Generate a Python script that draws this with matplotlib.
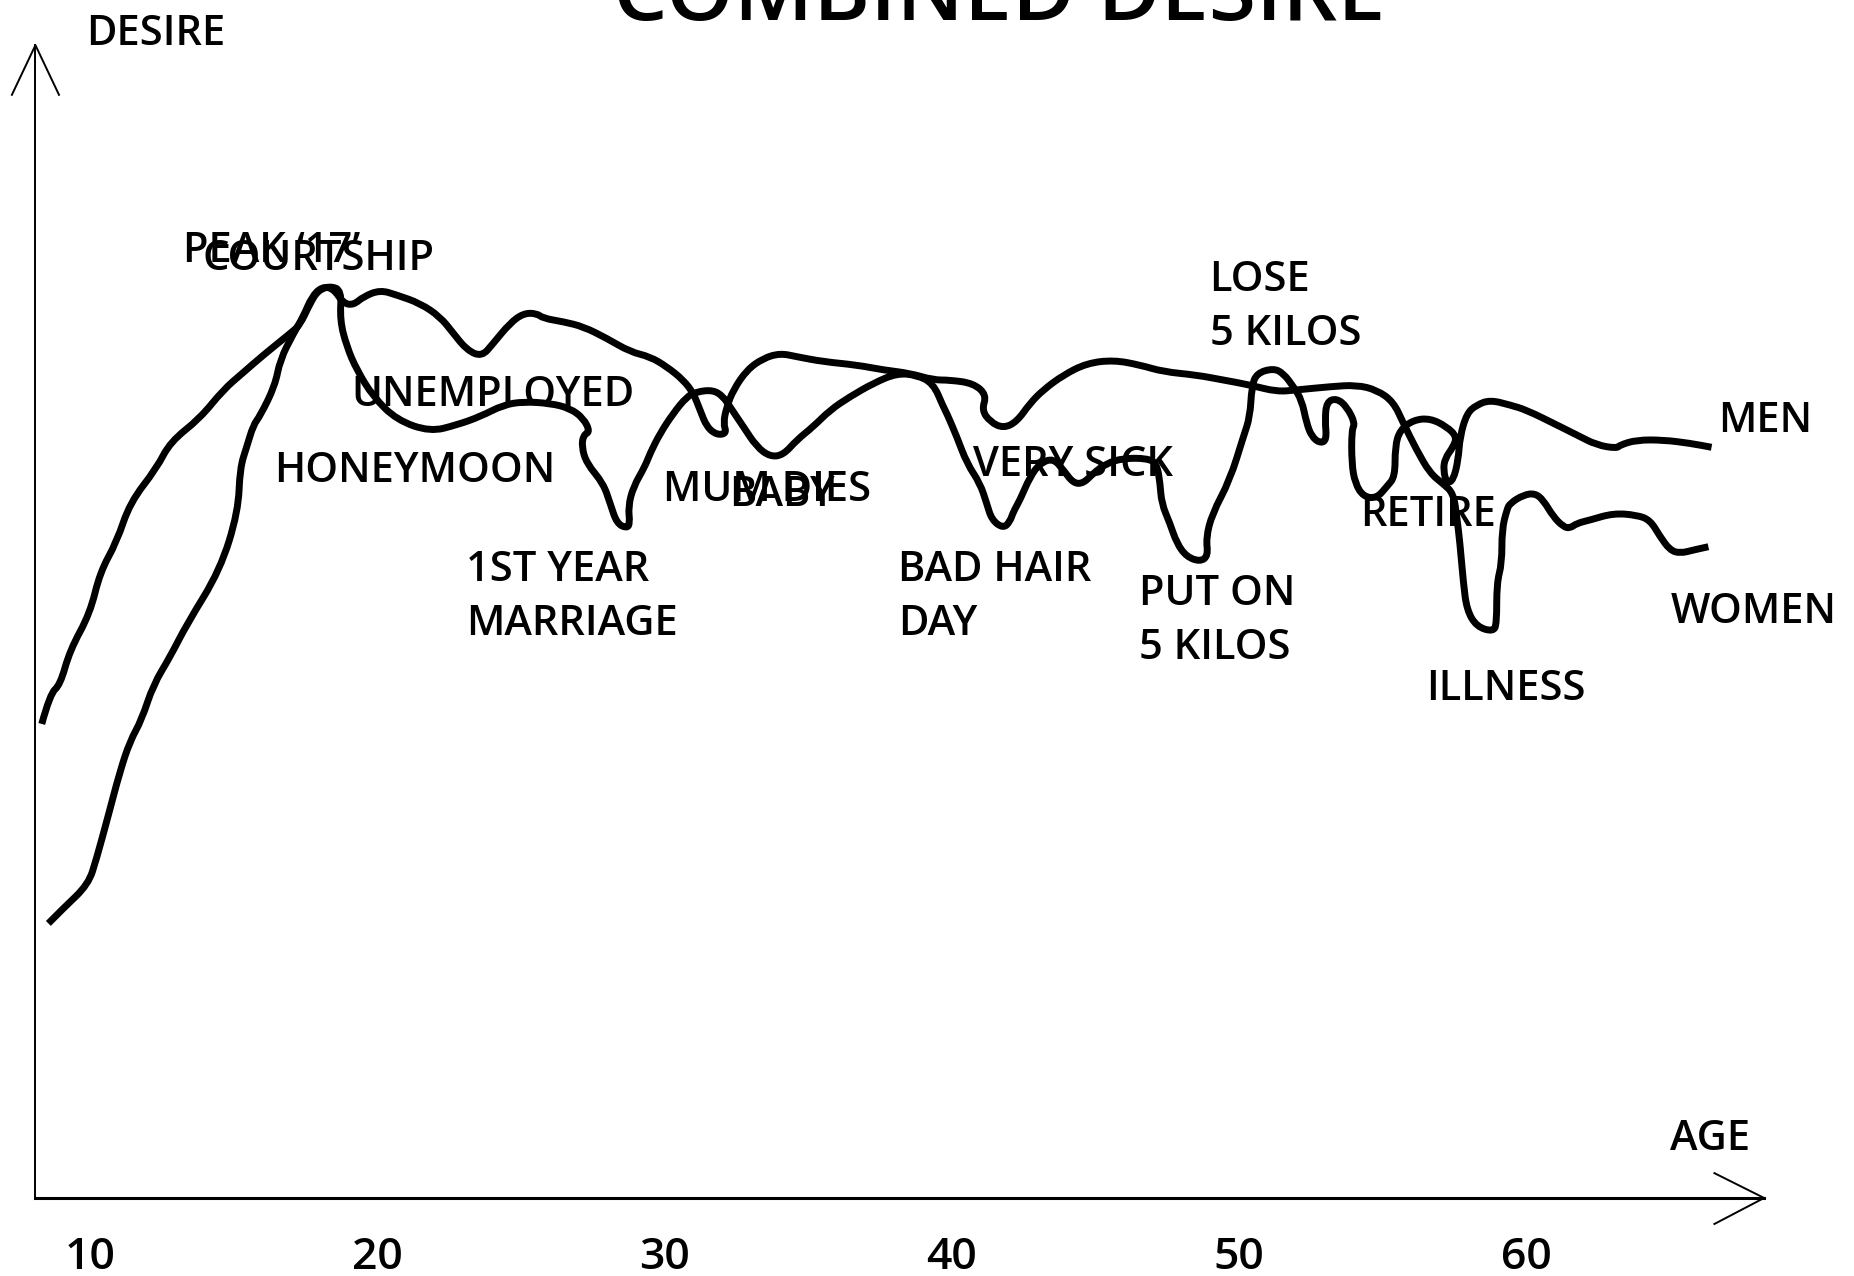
import matplotlib
matplotlib.use("Agg")
import matplotlib.pyplot as plt
from matplotlib.path import Path
from matplotlib.patches import PathPatch

## Data ##

# men: starts upper-left, honeymoon dip, ends at MEN
men_age = [8.32, 8.61, 8.96, 9.30, 10.00, 10.35, 10.93, 11.39, 12.32, 12.79, 13.83, 14.63, 15.33,
           16.02, 16.96, 17.31, 17.66, 17.94, 18.36, 18.76, 18.70, 18.94, 19.29, 19.86, 20.68,
           21.84, 22.77, 23.58, 24.39, 25.09, 26.02, 26.71, 27.18, 27.41, 27.18, 27.12, 27.29,
           27.87, 28.11, 28.34, 28.69, 28.80, 28.74, 28.92, 29.32, 29.50, 29.85, 30.31, 30.78,
           31.12, 31.70, 32.05, 32.28, 32.75, 33.21, 33.68, 34.14, 34.61, 35.18, 35.77, 36.46,
           37.27, 38.09, 38.78, 39.36, 39.71, 39.83, 40.18, 40.53, 40.99, 41.22, 41.40, 41.80,
           42.03, 42.15, 42.38, 42.73, 43.08, 43.54, 43.89, 44.24, 44.59, 44.93, 45.40, 45.98,
           46.79, 47.14, 47.26, 47.31, 47.60, 47.84, 48.18, 48.65, 48.93, 48.86, 49.07, 49.69,
           50.16, 50.39, 50.45, 50.62, 51.20, 51.55, 51.90, 52.19, 52.36, 52.54, 52.83, 53.06,
           53.00, 53.06, 53.41, 53.76, 54.05, 53.93, 53.93, 54.05, 54.34, 54.80, 55.15, 55.44,
           55.44, 55.61, 56.08, 56.66, 57.24, 57.59, 57.47, 57.18, 57.12, 57.24, 57.47, 57.64,
           57.70, 57.94, 58.28, 58.75, 59.44, 60.02, 61.07, 61.77, 62.46, 63.16, 63.27, 63.85,
           64.78, 65.71, 66.46]
men_desire = [40.09, 42.65, 43.39, 46.32, 49.44, 52.93, 55.49, 58.80, 61.72, 63.93, 65.94, 68.33,
              69.80, 71.26, 73.10, 73.83, 75.66, 76.76, 77.13, 76.76, 74.26, 72.00, 70.03, 67.77,
              65.80, 64.81, 65.38, 66.08, 67.07, 67.35, 67.21, 66.79, 65.94, 64.81, 64.53, 63.54,
              62.14, 60.44, 58.75, 57.06, 56.64, 57.06, 58.47, 60.16, 61.85, 62.98, 64.67, 66.37,
              67.77, 68.19, 68.34, 67.77, 66.92, 65.23, 63.54, 62.69, 62.84, 64.11, 65.23, 66.64,
              67.77, 68.90, 69.75, 69.60, 68.90, 66.92, 66.37, 64.39, 62.14, 60.44, 58.75, 57.34,
              56.64, 57.20, 58.04, 59.03, 61.00, 62.14, 62.56, 61.57, 60.44, 60.44, 61.29, 62.14,
              62.56, 62.56, 62.14, 60.44, 58.75, 57.06, 55.37, 54.24, 53.82, 54.30, 55.82, 57.85,
              60.72, 64.39, 66.08, 68.62, 69.75, 70.17, 69.75, 68.62, 67.49, 65.52, 64.39, 63.83,
              64.11, 65.80, 67.35, 67.63, 66.92, 65.52, 64.95, 62.14, 60.44, 59.31, 59.18, 60.16,
              61.00, 63.54, 64.95, 65.80, 65.94, 65.23, 64.39, 63.54, 62.56, 61.57, 60.44, 60.72,
              62.42, 64.39, 66.37, 67.07, 67.49, 67.07, 66.64, 65.38, 64.53, 63.68, 63.40, 63.68,
              64.11, 64.11, 63.83, 63.49]

# women: starts lower-left, unemployed dip, illness, ends at WOMEN
women_age = [8.55, 9.07, 9.94, 10.23, 10.64, 11.04, 11.39, 11.80, 12.20, 12.79, 13.37, 14.53,
             15.16, 15.22, 15.46, 15.69, 15.92, 16.44, 16.62, 17.08, 17.43, 17.72, 18.07, 18.47,
             18.82, 19.17, 19.52, 20.10, 20.68, 21.49, 22.19, 22.65, 23.12, 23.64, 24.04, 24.62,
             25.09, 25.55, 25.78, 26.48, 27.18, 27.99, 28.80, 29.50, 30.08, 30.66, 31.01, 31.24,
             31.47, 31.82, 32.17, 32.05, 32.17, 32.40, 32.87, 33.44, 34.03, 34.61, 35.53, 36.70,
             37.62, 38.55, 39.36, 39.94, 40.76, 41.22, 41.05, 41.34, 41.80, 42.27, 42.73, 43.19,
             43.89, 44.70, 45.63, 46.56, 47.37, 48.53, 49.46, 50.39, 51.32, 52.01, 53.18, 54.10,
             54.80, 55.38, 55.73, 56.19, 56.66, 57.12, 57.47, 57.59, 57.70, 57.82, 57.94, 58.28,
             58.86, 58.98, 58.98, 59.16, 59.16, 59.33, 59.44, 59.91, 60.31, 60.60, 60.95, 61.30,
             61.53, 61.77, 62.23, 63.04, 63.85, 64.32, 64.67, 65.01, 65.36, 65.83, 66.35]
women_desire = [23.22, 24.50, 26.51, 28.72, 32.38, 36.05, 38.62, 40.45, 43.39, 45.77, 48.52, 53.10,
                58.06, 61.72, 63.56, 65.39, 66.13, 68.69, 70.90, 73.10, 74.56, 76.21, 77.06, 76.94,
                75.67, 75.52, 76.23, 76.79, 76.37, 75.67, 74.53, 73.13, 71.72, 71.15, 72.28, 73.98,
                74.82, 74.82, 74.40, 74.11, 73.69, 72.71, 71.57, 71.15, 70.31, 69.18, 68.06, 66.64,
                65.23, 64.53, 64.67, 65.52, 66.92, 68.34, 70.03, 71.02, 71.44, 71.15, 70.73, 70.45,
                70.03, 69.75, 69.18, 69.18, 68.90, 67.91, 66.64, 65.65, 65.10, 65.65, 67.21, 68.34,
                69.60, 70.59, 70.87, 70.45, 69.88, 69.60, 69.18, 68.76, 68.19, 68.34, 68.62, 68.76,
                68.34, 67.35, 65.52, 63.26, 61.29, 60.39, 59.60, 57.62, 55.37, 51.99, 49.73, 48.32,
                47.89, 48.60, 51.99, 53.68, 56.50, 58.19, 58.75, 59.46, 59.60, 59.03, 57.62, 56.77,
                56.64, 57.06, 57.34, 57.91, 57.76, 57.34, 55.93, 54.80, 54.52, 54.80, 55.08]

# life events (label, age, desire of the last line's baseline)
event_labels = ["PEAK \u201817\u2019", "COURTSHIP", "UNEMPLOYED", "HONEYMOON", "1ST YEAR\nMARRIAGE",
                "MUM DIES", "BABY", "BAD HAIR\nDAY", "VERY SICK", "PUT ON\n5 KILOS",
                "LOSE\n5 KILOS", "RETIRE", "ILLNESS", "MEN", "WOMEN"]
event_age = [13.24, 13.93, 19.09, 16.41, 23.09, 29.95, 32.27, 38.15, 40.75, 46.51, 48.98, 54.21,
             56.52, 66.69, 65.04]
event_desire = [79.12, 78.52, 67.02, 60.52, 47.6, 58.95, 58.53, 47.6, 61.02, 45.6, 72.1, 56.83,
                42.12, 64.82, 48.63]

age_ticks = [10, 20, 30, 40, 50, 60]

## Helpers ##

def smooth_path(xs, ys):
    '''
    Quadratic spline through the midpoints, the traced points act as control points
    '''
    pts = list(zip(xs, ys))
    verts = [pts[0]]
    codes = [Path.MOVETO]
    for i in range(1, len(pts) - 1):
        mid = ((pts[i][0] + pts[i + 1][0]) / 2, (pts[i][1] + pts[i + 1][1]) / 2)
        verts += [pts[i], mid]
        codes += [Path.CURVE3, Path.CURVE3]
    verts.append(pts[-1])
    codes.append(Path.LINETO)
    return Path(verts, codes)

## Figure ##

plt.rcParams['font.family'] = ['Open Sans', 'Noto Sans', 'DejaVu Sans']

fig = plt.figure(figsize=(18.54, 12.76), dpi=100)
ax = fig.add_axes([0, 0, 1, 1])
ax.set_xlim(6.866, 71.42)
ax.set_ylim(-6.6, 101.32)
ax.axis('off')

fs = 30
wt = 'semibold'

# axes drawn by hand, with open arrow heads
ax.plot([8.10, 8.10], [0, 97.5], color='black', lw=1.4)
ax.plot([7.28, 8.10, 8.92], [93.3, 97.5, 93.3], color='black', lw=1.4)
ax.plot([8.10, 68.29], [0, 0], color='black', lw=2.2)
ax.plot([66.56, 68.29, 66.56], [2.1, 0, -2.2], color='black', lw=1.4)

# the two curves
for xs, ys in [(men_age, men_desire), (women_age, women_desire)]:
    patch = PathPatch(smooth_path(xs, ys), fill=False, edgecolor='black', lw=5,
                      joinstyle='round', capstyle='butt', transform=ax.transData)
    ax.add_patch(patch)

# labels
for lab, a, d in zip(event_labels, event_age, event_desire):
    ax.text(a, d, lab, fontsize=fs, fontweight=wt, ha='left', va='baseline', linespacing=1.38)

for t in age_ticks:
    ax.text(t, -5.98, str(t), fontsize=32, fontweight=wt, ha='center', va='baseline')

ax.text(9.86, 97.51, "DESIRE", fontsize=fs, fontweight=wt, ha='left', va='baseline')
ax.text(65.0, 4.02, "AGE", fontsize=fs, fontweight=wt, ha='left', va='baseline')
ax.text(41.65, 99.63, "COMBINED DESIRE", fontsize=62, fontweight=wt, ha='center', va='baseline')

fig.savefig('out.png', dpi=100)
